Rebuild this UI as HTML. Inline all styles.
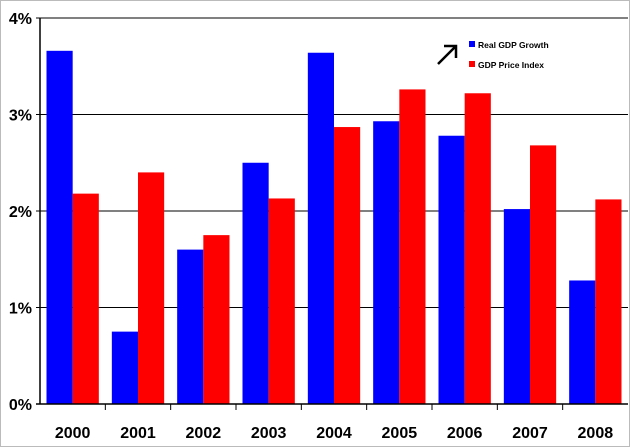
<!DOCTYPE html>
<html><head><meta charset="utf-8"><style>
body{margin:0;background:#fff;}
svg{display:block;font-family:"Liberation Sans",Arial,sans-serif;}
</style></head><body>
<svg id="chart" width="630" height="447" viewBox="0 0 630 447">
<rect x="0.5" y="0.5" width="629" height="446" fill="#fff" stroke="#bbb"/>
<g id="grid"></g><g id="bars"></g><g id="axes"></g>
<g>
<path d="M438 64 L455 47 M444 46 L456 46 L456 58" stroke="#000" stroke-width="2.5" fill="none"/>
<rect x="469" y="41" width="6" height="6" fill="#0000ff"/>
<text x="478" y="48" font-size="8.5" font-weight="bold">Real GDP Growth</text>
<rect x="469" y="61" width="6" height="6" fill="#ff0000"/>
<text x="478" y="68" font-size="8.5" font-weight="bold">GDP Price Index</text>
</g>
</svg>
<script>
const categories=["2000","2001","2002","2003","2004","2005","2006","2007","2008"];
const realGdp=[3.66,0.75,1.6,2.5,3.64,2.93,2.78,2.02,1.28];
const priceIndex=[2.18,2.4,1.75,2.13,2.87,3.26,3.22,2.68,2.12];
const yTicks=[0,1,2,3,4];
const yTickLabels=["0%","1%","2%","3%","4%"];
const NS="http://www.w3.org/2000/svg";
const L=40,R=628,T=18,B=404,yMax=4;
const y=v=>B-(B-T)*v/yMax;
const bw=(R-L)/categories.length;
const xCat=i=>L+i*bw;
function mk(tag,attrs,parent,txt){const e=document.createElementNS(NS,tag);for(const k in attrs)e.setAttribute(k,attrs[k]);if(txt!=null)e.textContent=txt;document.getElementById(parent).appendChild(e);return e;}
yTicks.forEach((t,i)=>{
  if(t>0){const g=mk('line',{x1:L-4,x2:R,y1:y(t),y2:y(t),stroke:'#000','stroke-width':1},'grid');
  
  }
  const lb=mk('text',{x:L-8,y:y(t)+6,'text-anchor':'end','font-size':16,'font-weight':'bold'},'axes',yTickLabels[i]);
  
  
});
categories.forEach((c,i)=>{
  const x0=xCat(i)+6.5,w=(bw-13)/2;
  const b1=mk('rect',{x:x0,y:y(realGdp[i]),width:w,height:B-y(realGdp[i]),fill:'#0000ff'},'bars');
  
  
  const b2=mk('rect',{x:x0+w,y:y(priceIndex[i]),width:w,height:B-y(priceIndex[i]),fill:'#ff0000'},'bars');
  
  
  const t=mk('text',{x:xCat(i)+bw/2,y:438,'text-anchor':'middle','font-size':16,'font-weight':'bold'},'axes',c);
  
  
  if(i>0){const tk=mk('line',{x1:xCat(i),x2:xCat(i),y1:B,y2:B+6,stroke:'#000'},'axes');
  
  }
});
const ya=mk('line',{x1:L,x2:L,y1:T,y2:B,stroke:'#000','stroke-width':1.5},'axes');


const xa=mk('line',{x1:L-4,x2:R,y1:B,y2:B,stroke:'#000','stroke-width':1.5},'axes');


</script>
</body></html>
